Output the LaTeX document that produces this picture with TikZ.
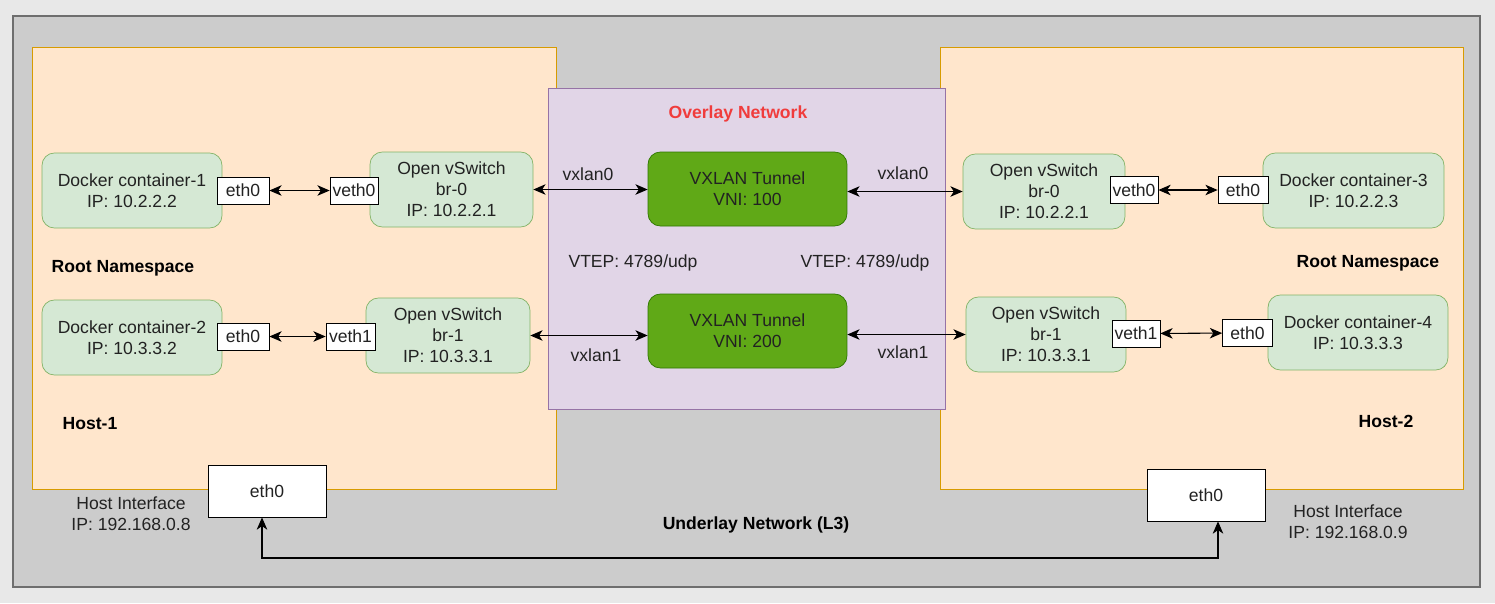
\documentclass[tikz,border=0pt]{standalone}
\usepackage{fontspec}
\setmainfont{Liberation Sans}
\usepackage{xcolor}
\usetikzlibrary{arrows.meta}
\usetikzlibrary{positioning}

\definecolor{pagebg}{HTML}{E8E8E8}
\definecolor{underfill}{HTML}{CCCCCC}
\definecolor{underdraw}{HTML}{6E6E6E}
\definecolor{hostfill}{HTML}{FFE6CC}
\definecolor{hostdraw}{HTML}{D79B00}
\definecolor{overfill}{HTML}{E1D5E7}
\definecolor{overdraw}{HTML}{9673A6}
\definecolor{ctrfill}{HTML}{D5E8D4}
\definecolor{ctrdraw}{HTML}{82B366}
\definecolor{tunfill}{HTML}{60A917}
\definecolor{tundraw}{HTML}{2D7600}
\definecolor{titlered}{HTML}{F03C3C}
\definecolor{textgray}{HTML}{222222}

\begin{document}
\begin{tikzpicture}[x=0.02cm, y=-0.02cm,
    every node/.style={font=\fontsize{10}{12}\selectfont, align=center, inner sep=0pt, text=textgray},
    ctr/.style={fill=ctrfill, draw=ctrdraw, rounded corners=7pt, minimum height=1.5cm},
    iface/.style={fill=white, draw=black, minimum height=0.54cm},
    tunnel/.style={fill=tunfill, draw=tundraw, rounded corners=7pt, minimum width=3.98cm, minimum height=1.48cm},
    hosteth/.style={fill=white, draw=black, minimum width=2.36cm, minimum height=1.04cm},
    tag/.style={font=\bfseries\fontsize{10}{12}\selectfont, text=black},
    link/.style={{Stealth[length=7pt,width=6pt,inset=2pt]}-{Stealth[length=7pt,width=6pt,inset=2pt]}, black, semithick}]

  % page and frames
  \fill[pagebg] (0,0) rectangle (1495,603);
  \useasboundingbox (0,0) rectangle (1495,603);
  \draw[underdraw, fill=underfill, thick] (13,16) rectangle (1480,587);
  \draw[hostdraw, fill=hostfill] (32,47) rectangle (556,489);
  \draw[hostdraw, fill=hostfill] (940,47) rectangle (1463,489);
  \draw[overdraw, fill=overfill] (548,88) rectangle (945,409);

  % host 1
  \node[ctr, minimum width=3.6cm] (ctr1) at (132,190.5) {Docker container-1\\IP: 10.2.2.2};
  \node[ctr, minimum width=3.6cm] (ctr2) at (132,337.5) {Docker container-2\\IP: 10.3.3.2};
  \node[ctr, minimum width=3.26cm] (ovs0l) at (451.5,189.5) {Open vSwitch\\br-0\\IP: 10.2.2.1};
  \node[ctr, minimum width=3.28cm] (ovs1l) at (448,335.5) {Open vSwitch\\br-1\\IP: 10.3.3.1};
  \node[iface, minimum width=1.04cm] (eth1) at (243,190.5) {eth0};
  \node[iface, minimum width=1.04cm] (eth2) at (243,336.5) {eth0};
  \node[iface, minimum width=0.96cm] (veth0l) at (354,190.5) {veth0};
  \node[iface, minimum width=0.98cm] (veth1l) at (350.5,336.5) {veth1};

  % host 2
  \node[ctr, minimum width=3.62cm] (ctr3) at (1353.5,190.5) {Docker container-3\\IP: 10.2.2.3};
  \node[ctr, minimum width=3.6cm] (ctr4) at (1358,332.5) {Docker container-4\\IP: 10.3.3.3};
  \node[ctr, minimum width=3.24cm] (ovs0r) at (1044,191.5) {Open vSwitch\\br-0\\IP: 10.2.2.1};
  \node[ctr, minimum width=3.2cm] (ovs1r) at (1046,334.5) {Open vSwitch\\br-1\\IP: 10.3.3.1};
  \node[iface, minimum width=0.96cm] (veth0r) at (1134,190) {veth0};
  \node[iface, minimum width=0.96cm] (veth1r) at (1136,333.5) {veth1};
  \node[iface, minimum width=1.0cm] (eth3) at (1243,190) {eth0};
  \node[iface, minimum width=1.0cm] (eth4) at (1247.5,333) {eth0};

  % overlay
  \node[tag, text=titlered] (overlay) at (738,114) {Overlay Network};
  \node[tunnel] (tun0) at (747.5,189) {VXLAN Tunnel\\VNI: 100};
  \node[tunnel] (tun1) at (747.5,331) {VXLAN Tunnel\\VNI: 200};
  \node (vx0l) at (588,174) {vxlan0};
  \node (vx0r) at (903,173) {vxlan0};
  \node (vx1l) at (596,355) {vxlan1};
  \node (vx1r) at (903,352) {vxlan1};
  \node (vtepl) at (633,263) {VTEP: 4789/udp};
  \node (vtepr) at (865,263) {VTEP: 4789/udp};

  % labels
  \node[tag] (rootl) at (123,268) {Root Namespace};
  \node[tag] (rootr) at (1368,263) {Root Namespace};
  \node[tag] (host1) at (90,424) {Host-1};
  \node[tag] (host2) at (1386,421) {Host-2};
  \node[tag] (under) at (756,525) {Underlay Network (L3)};

  % underlay
  \node[hosteth] (heth1) at (267,491) {eth0};
  \node[hosteth] (heth2) at (1206,495) {eth0};
  \node (hif1) at (131,514) {Host Interface\\IP: 192.168.0.8};
  \node (hif2) at (1348,522) {Host Interface\\IP: 192.168.0.9};
  \coordinate (bend) at (740,558);

  % links
  \draw[link] (eth1) -- (veth0l);
  \draw[link] (eth2) -- (veth1l);
  \draw[link] (veth0r) -- (eth3);
  \draw[link] (veth1r) -- (eth4);
  \draw[link] (ovs0l.east) -- (ovs0l.east -| tun0.west);
  \draw[link] (ovs1l.east) -- (ovs1l.east -| tun1.west);
  \draw[link] (ovs0r.west -| tun0.east) -- (ovs0r.west);
  \draw[link] (ovs1r.west -| tun1.east) -- (ovs1r.west);
  \draw[link] ([xshift=-0.1cm]heth1.south) |- (bend) -| ([xshift=0.24cm]heth2.south);
\end{tikzpicture}
\end{document}
